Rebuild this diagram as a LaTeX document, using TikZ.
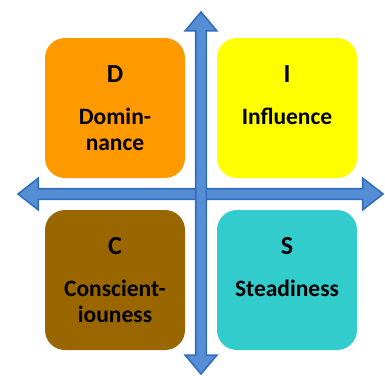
\documentclass[tikz,border=0pt]{standalone}
\usepackage{fontspec}
\setmainfont{Carlito}
\usepackage{tikz}
\usetikzlibrary{positioning, shapes.arrows}
\definecolor{axisfill}{RGB}{85,142,213}
\definecolor{axisline}{RGB}{50,110,190}
\definecolor{domcol}{RGB}{255,153,0}
\definecolor{inflcol}{RGB}{255,255,0}
\definecolor{conscol}{RGB}{153,102,0}
\definecolor{steadcol}{RGB}{51,204,204}
\tikzstyle{quad} = [rectangle, rounded corners=20pt, minimum width=140pt, minimum height=140pt, inner sep=0pt]
\tikzstyle{letter} = [font=\bfseries\fontsize{26}{28}\selectfont, inner sep=0pt]
\tikzstyle{word} = [font=\bfseries\fontsize{23.5}{25.5}\selectfont, align=center, inner sep=0pt]
\tikzstyle{axis} = [double arrow, draw=axisline, fill=axisfill, line width=1.6pt, inner sep=4.5pt, double arrow head extend=10.5pt, double arrow head indent=0pt]

\begin{document}
\begin{tikzpicture}[x=1pt,y=-1pt]
				\useasboundingbox (0,0) rectangle (385,375);
				\node[quad, fill=domcol] (dom) at (115,108) {};
				\node[quad, fill=inflcol] (infl) at (287,108) {};
				\node[quad, fill=conscol] (cons) at (115,280) {};
				\node[quad, fill=steadcol] (stead) at (287,280) {};
				\node[axis, minimum height=365pt, double arrow tip angle=76] (horiz) at (200.5,194) {};
				\node[axis, minimum height=362pt, double arrow tip angle=80, shape border rotate=90] (vert) at (201,193) {};
				% base of a two-line node is its last line
				\node[letter, below=45pt of dom.north, anchor=base] (dT) {D};
				\node[word, below=67.5pt of dT.base, anchor=base] {Domin-\\nance};
				\node[letter, below=45pt of infl.north, anchor=base] (iT) {I};
				\node[word, below=42pt of iT.base, anchor=base] {Influence};
				\node[letter, below=45pt of cons.north, anchor=base] (cT) {C};
				\node[word, below=67.5pt of cT.base, anchor=base] {Conscient-\\iouness};
				\node[letter, below=45pt of stead.north, anchor=base] (sT) {S};
				\node[word, below=42pt of sT.base, anchor=base] {Steadiness};
			\end{tikzpicture}
\end{document}
